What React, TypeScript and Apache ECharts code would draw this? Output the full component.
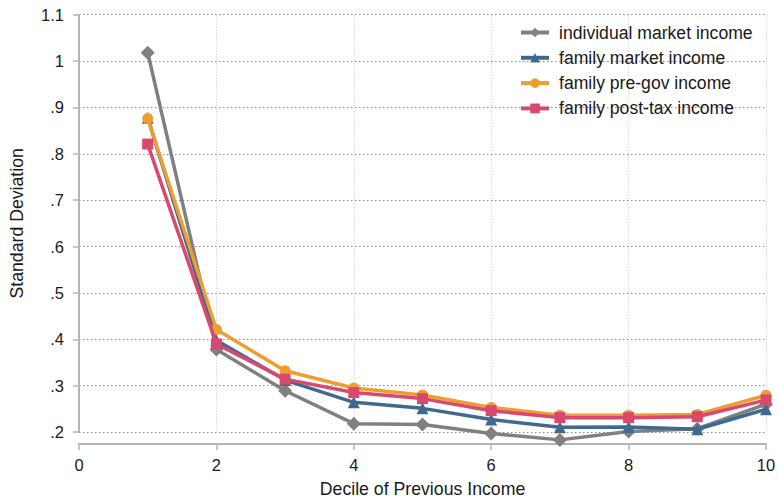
import React, { useEffect, useRef } from "react";
import * as echarts from "echarts";

const deciles = [1, 2, 3, 4, 5, 6, 7, 8, 9, 10];
const seriesNames = [
  "individual market income",
  "family market income",
  "family pre-gov income",
  "family post-tax income",
];
const individualMarket = [1.018, 0.378, 0.289, 0.218, 0.216, 0.197, 0.183, 0.201, 0.207, 0.26];
const familyMarket = [0.878, 0.398, 0.312, 0.264, 0.251, 0.227, 0.21, 0.211, 0.206, 0.249];
const familyPreGov = [0.876, 0.421, 0.332, 0.295, 0.28, 0.253, 0.236, 0.236, 0.238, 0.279];
const familyPostTax = [0.821, 0.39, 0.314, 0.285, 0.272, 0.246, 0.231, 0.231, 0.233, 0.269];

const colors = ["#808080", "#3f6a8e", "#ee9e31", "#d9496f"];
const symbols = ["diamond", "triangle", "circle", "rect"];
const symbolSizes = [14, 12, 11, 11];

const FONT = "'Liberation Sans', Arial, Helvetica, sans-serif";

export default function App() {
  const ref = useRef<HTMLDivElement>(null);
  useEffect(() => {
    document.body.style.margin = "0";
    if (!ref.current) return;
    const chart = echarts.init(ref.current, undefined, { renderer: "svg" });
    const dataSets = [individualMarket, familyMarket, familyPreGov, familyPostTax];
    const axisGray = "#b4b4b4";
    chart.setOption({
      animation: false,
      textStyle: { fontFamily: FONT },
      grid: { left: 78, right: 13, top: 14.7, bottom: 65.3, containLabel: false },
      legend: {
        orient: "vertical",
        left: 519,
        top: 23.5,
        padding: 0,
        itemWidth: 28,
        itemHeight: 12,
        itemGap: 7.3,
        lineStyle: { width: 4 },
        textStyle: { fontFamily: FONT, fontSize: 17.6, color: "#1a1a1a", padding: [0, 0, 0, 5] },
        data: seriesNames,
      },
      xAxis: {
        type: "value",
        min: 0,
        max: 10,
        interval: 2,
        offset: 12,
        name: "Decile of Previous Income",
        nameLocation: "middle",
        nameGap: 36,
        nameTextStyle: { fontFamily: FONT, fontSize: 17.7, color: "#1a1a1a" },
        axisLine: { show: true, lineStyle: { color: axisGray, width: 2 } },
        axisTick: { show: true, length: 6, lineStyle: { color: axisGray, width: 1.5 } },
        axisLabel: { fontFamily: FONT, fontSize: 16.5, color: "#1a1a1a", margin: 12 },
        splitLine: { show: true, lineStyle: { color: "#c4c4c4", type: [1, 2], width: 1 } },
      },
      yAxis: {
        type: "value",
        min: 0.2,
        max: 1.1,
        interval: 0.1,
        offset: 5,
        name: "Standard Deviation",
        nameLocation: "middle",
        nameGap: 48,
        nameTextStyle: { fontFamily: FONT, fontSize: 17.7, color: "#1a1a1a" },
        axisLine: { show: true, lineStyle: { color: axisGray, width: 2 } },
        axisTick: { show: true, length: 6, lineStyle: { color: axisGray, width: 1.5 } },
        axisLabel: {
          fontFamily: FONT,
          fontSize: 16.5,
          color: "#1a1a1a",
          margin: 10,
          formatter: (v: number) => {
            const s = String(Math.round(v * 10) / 10);
            return s.startsWith("0.") ? s.slice(1) : s;
          },
        },
        splitLine: { show: true, lineStyle: { color: "#8c8c8c", type: [1.5, 2.5], width: 1 } },
      },
      series: dataSets.map((d, i) => ({
        name: seriesNames[i],
        type: "line",
        data: deciles.map((x, j) => [x, d[j]]),
        clip: false,
        symbol: symbols[i],
        symbolSize: symbolSizes[i],
        showAllSymbol: true,
        lineStyle: { color: colors[i], width: 3.5 },
        itemStyle: { color: colors[i] },
        z: 2 + i,
      })),
    });
    return () => chart.dispose();
  }, []);
  return <div ref={ref} style={{ width: 779, height: 503 }} />;
}
